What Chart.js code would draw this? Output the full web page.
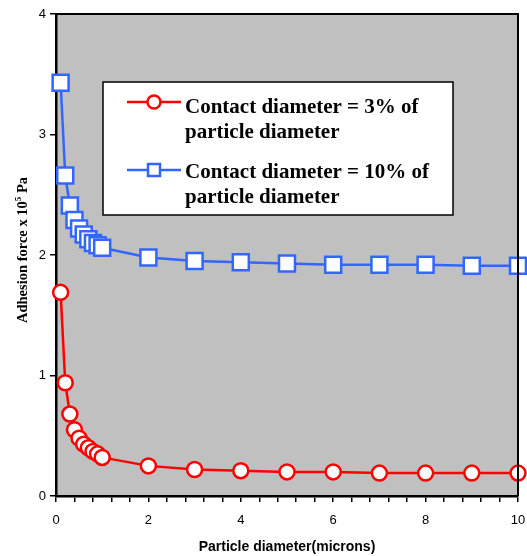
<!DOCTYPE html>
<html>
<head>
<meta charset="utf-8">
<script src="https://cdn.jsdelivr.net/npm/chart.js@4/dist/chart.umd.min.js"></script>
<style>
html,body{margin:0;padding:0;background:#fff;}
#wrap{width:527px;height:556px;}
</style>
</head>
<body>
<div id="wrap"><canvas id="c" width="527" height="556"></canvas></div>
<script>
const diameters = [0.1,0.2,0.3,0.4,0.5,0.6,0.7,0.8,0.9,1,2,3,4,5,6,7,8,9,10];
const force3pct = [1.69,0.94,0.68,0.55,0.48,0.43,0.40,0.37,0.35,0.32,0.25,0.22,0.21,0.20,0.20,0.19,0.19,0.19,0.19];
const force10pct = [3.43,2.66,2.41,2.29,2.22,2.17,2.13,2.10,2.08,2.06,1.98,1.95,1.94,1.93,1.92,1.92,1.92,1.91,1.91];
const seriesNames = ["Contact diameter = 3% of\nparticle diameter","Contact diameter = 10% of\nparticle diameter"];
const xTitle = "Particle diameter(microns)";
const yTitle = ["Adhesion force x 10","5"," Pa"];

const RED = "#ff0000", BLUE = "#3366ff";
const pts = (ys) => diameters.map((x,i)=>({x:x,y:ys[i]}));

const bgPlugin = {
  id:'bg',
  beforeDraw(chart){
    const {ctx, chartArea:a} = chart;
    ctx.save();
    ctx.fillStyle = '#c0c0c0';
    ctx.fillRect(a.left, a.top, a.right-a.left, a.bottom-a.top);
    ctx.restore();
  },
  afterDatasetsDraw(chart){
    const {ctx, chartArea:a} = chart;
    ctx.save();
    ctx.strokeStyle = '#000';
    ctx.lineWidth = 2;
    ctx.beginPath();
    ctx.moveTo(a.left, a.top); ctx.lineTo(a.right, a.top); ctx.lineTo(a.right, a.bottom);
    ctx.stroke();
    ctx.restore();
  },
  afterDraw(chart){
    const ctx = chart.ctx;
    ctx.save();
    // legend box
    const bx=103, by=82, bw=350, bh=133;
    ctx.fillStyle='#fff'; ctx.fillRect(bx,by,bw,bh);
    ctx.strokeStyle='#000'; ctx.lineWidth=1.5; ctx.strokeRect(bx,by,bw,bh);
    const entries = [
      {color:RED, shape:'circle', y:102, ty:108, text:seriesNames[0]},
      {color:BLUE, shape:'rect', y:170, ty:173, text:seriesNames[1]}
    ];
    ctx.font = 'bold 21px "Liberation Serif", "Times New Roman", serif';
    entries.forEach(e=>{
      ctx.strokeStyle=e.color; ctx.lineWidth=2.5;
      ctx.beginPath(); ctx.moveTo(127,e.y); ctx.lineTo(181,e.y); ctx.stroke();
      ctx.fillStyle='#fff';
      ctx.beginPath();
      if(e.shape==='circle'){ ctx.arc(154,e.y,6.5,0,Math.PI*2); }
      else { ctx.rect(148,e.y-6,12,12); }
      ctx.fill(); ctx.stroke();
      ctx.fillStyle='#000'; ctx.textBaseline='middle'; ctx.textAlign='left';
      const lines = e.text.split('\n');
      lines.forEach((l,i)=>ctx.fillText(l,185,e.ty+i*25));
    });
    // y title
    ctx.translate(22,250);
    ctx.rotate(-Math.PI/2);
    const f1='bold 14.5px "Liberation Serif", "Times New Roman", serif';
    const f2='bold 9px "Liberation Serif", "Times New Roman", serif';
    ctx.font=f1; const w1=ctx.measureText(yTitle[0]).width; const w3=ctx.measureText(yTitle[2]).width;
    ctx.font=f2; const w2=ctx.measureText(yTitle[1]).width;
    let x0=-(w1+w2+w3)/2;
    ctx.fillStyle='#000'; ctx.textBaseline='alphabetic'; ctx.textAlign='left';
    ctx.font=f1; ctx.fillText(yTitle[0],x0,5);
    ctx.font=f2; ctx.fillText(yTitle[1],x0+w1,-1);
    ctx.font=f1; ctx.fillText(yTitle[2],x0+w1+w2,5);
    ctx.restore();
  }
};

new Chart(document.getElementById('c'), {
  type:'line',
  data:{datasets:[
    {label:seriesNames[0], data:pts(force3pct), borderColor:RED, borderWidth:2.5, pointStyle:'circle', pointRadius:7.5,
     pointBackgroundColor:'#fff', pointBorderColor:RED, pointBorderWidth:2.5, tension:0, clip:false},
    {label:seriesNames[1], data:pts(force10pct), borderColor:BLUE, borderWidth:2.5, pointStyle:'rect', pointRadius:11.3,
     pointBackgroundColor:'#fff', pointBorderColor:BLUE, pointBorderWidth:2.5, tension:0, clip:false}
  ]},
  options:{
    responsive:false, animation:false,
    layout:{autoPadding:false, padding:{left:0, top:14, right:9, bottom:0}},
    plugins:{legend:{display:false}, tooltip:{enabled:false}},
    scales:{
      x:{type:'linear', min:0, max:10,
        afterFit(s){ s.height = 60; s.paddingLeft = 0; s.paddingRight = 0; },
        ticks:{stepSize:0.4, autoSkip:false, maxRotation:0, padding:11, color:'#000',
          font:{family:'"Liberation Sans", Arial, sans-serif', size:13},
          callback(v){ const r=v/2; return Math.abs(r-Math.round(r))<1e-6 ? String(Math.round(v)) : ''; }},
        grid:{drawOnChartArea:false, drawTicks:true, tickLength:6, color:'#000', lineWidth:1.5},
        border:{display:true, color:'#000', width:2.5},
        title:{display:true, text:xTitle, color:'#000', padding:{top:10, bottom:0}, font:{family:'"Liberation Sans", Arial, sans-serif', size:14, weight:'bold'}}
      },
      y:{type:'linear', min:0, max:4,
        afterFit(s){ s.width = 56; s.paddingTop = 0; s.paddingBottom = 0; },
        ticks:{stepSize:1, padding:4, color:'#000', font:{family:'"Liberation Sans", Arial, sans-serif', size:13}},
        grid:{drawOnChartArea:false, drawTicks:true, tickLength:6, color:'#000', lineWidth:1.5},
        border:{display:true, color:'#000', width:2.5}
      }
    }
  },
  plugins:[bgPlugin]
});
</script>
</body>
</html>
